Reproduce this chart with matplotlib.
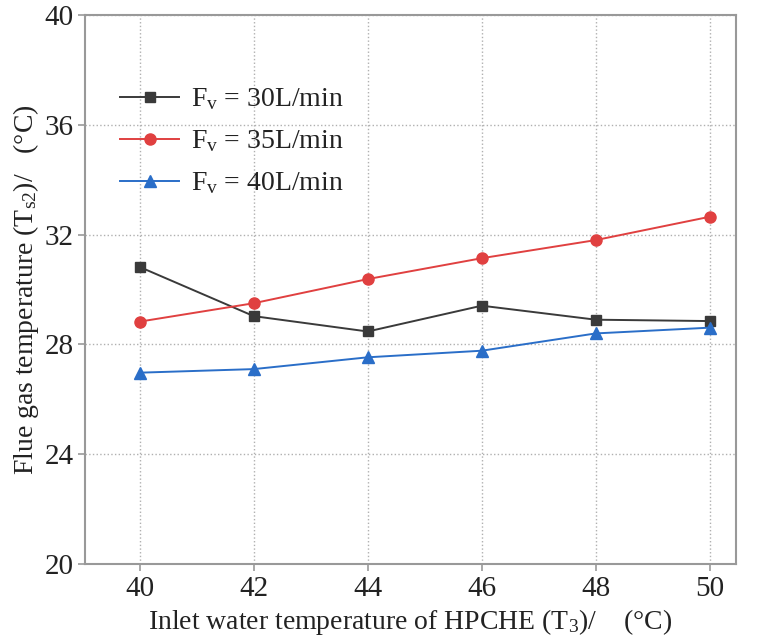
import matplotlib
matplotlib.use("Agg")
import matplotlib.pyplot as plt

x_vals = [40, 42, 44, 46, 48, 50]
fv30 = [30.82, 29.03, 28.47, 29.41, 28.90, 28.85]
fv35 = [28.83, 29.50, 30.38, 31.14, 31.80, 32.65]
fv40 = [26.97, 27.10, 27.53, 27.77, 28.40, 28.61]
labels = [r"F$_\mathregular{v}$ = 30L/min", r"F$_\mathregular{v}$ = 35L/min", r"F$_\mathregular{v}$ = 40L/min"]
y_ticks = [20, 24, 28, 32, 36, 40]

plt.rcParams['font.family'] = ['Liberation Serif', 'DejaVu Serif']
plt.rcParams['mathtext.fontset'] = 'custom'
plt.rcParams['mathtext.rm'] = 'Liberation Serif'
plt.rcParams['mathtext.it'] = 'Liberation Serif:italic'

fig = plt.figure(figsize=(7.6, 6.41), dpi=100)
ax = fig.add_axes([85/760, 1 - 564/641, (736-85)/760, (564-15)/641])

ax.plot(x_vals, fv30, color='#3a3a3a', marker='s', markersize=7, lw=1.4, label=labels[0])
ax.plot(x_vals, fv35, color='#e04040', marker='o', markersize=8, lw=1.4, label=labels[1])
ax.plot(x_vals, fv40, color='#2a6ec8', marker='^', markersize=8, lw=1.4, label=labels[2])

ax.set_xlim(39.04, 50.46)
ax.set_ylim(20, 40)
ax.set_xticks(x_vals)
ax.set_yticks(y_ticks)
ax.grid(True, linestyle=':', color='#b0b0b0', lw=1)
for s in ax.spines.values():
    s.set_color('#999999')
    s.set_linewidth(1.5)
ax.tick_params(axis='both', direction='out', colors='#999999', labelcolor='#222222', labelsize=21, length=5, width=1.2)
ax.tick_params(axis='x', pad=4)
ax.tick_params(axis='y', pad=3)

ax.set_xlabel(r"Inlet water temperature of HPCHE (T$_\mathregular{3}$)/    (°C)", fontsize=20, color='#222222', labelpad=3)
ax.set_ylabel(r"Flue gas temperature (T$_\mathregular{s2}$)/   (°C)", fontsize=20, color='#222222', labelpad=3)

leg = ax.legend(loc='upper left', bbox_to_anchor=(0.015, 0.915), frameon=False, fontsize=20,
                handlelength=2.15, handletextpad=0.4, labelspacing=0.58)
for t in leg.get_texts():
    t.set_color('#222222')

fig.savefig('out.png', dpi=100)
